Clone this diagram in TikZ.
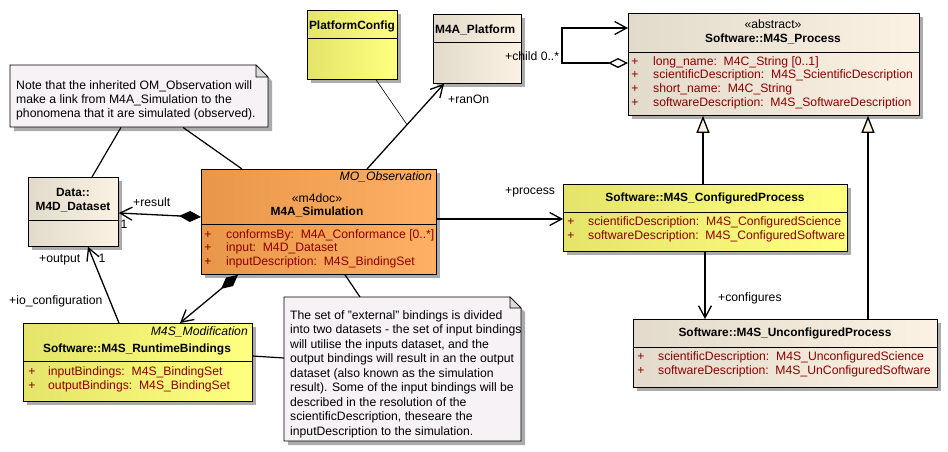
\documentclass[tikz,border=0pt]{standalone}
\usepackage{fontspec}
\setmainfont{Liberation Sans}
\usetikzlibrary{arrows.meta,shadows,calc}
\definecolor{creamL}{HTML}{E2DACB}
\definecolor{creamR}{HTML}{FBF2E4}
\definecolor{yelL}{HTML}{E4E46A}
\definecolor{yelR}{HTML}{FFFF80}
\definecolor{orL}{HTML}{E8974A}
\definecolor{orR}{HTML}{FFB064}
\definecolor{notefill}{HTML}{F6F2F6}
\definecolor{earfill}{HTML}{DCDCDC}
\definecolor{shadowgray}{HTML}{ABABAB}
\definecolor{attrred}{HTML}{8B0000}
\newcommand\mynotebox[5]{%
  \fill[shadowgray] (#1+4,#2+4) -- (#3+4-#5,#2+4) -- (#3+4,#2+4+#5) -- (#3+4,#4+4) -- (#1+4,#4+4) -- cycle;
  \draw[line width=0.8pt, fill=notefill] (#1,#2) -- (#3-#5,#2) -- (#3,#2+#5) -- (#3,#4) -- (#1,#4) -- cycle;
  \draw[line width=0.6pt, fill=earfill] (#3-#5,#2) -- (#3-#5,#2+#5) -- (#3,#2+#5) -- cycle;
}
\begin{document}
\begin{tikzpicture}[x=1pt,y=-1pt,
  box/.style={draw=black, line width=0.8pt, inner sep=0pt, anchor=north west,
    drop shadow={shadow xshift=4pt, shadow yshift=-4pt, fill=shadowgray, opacity=1}},
  creambox/.style={box, left color=creamL, right color=creamR},
  yellowbox/.style={box, left color=yelL, right color=yelR},
  orangebox/.style={box, left color=orL, right color=orR},
  txt/.style={font=\fontsize{12.2}{14}\selectfont, inner sep=0pt, text height=8.8pt, text depth=2.6pt},
  ltxt/.style={txt, anchor=west},
  bold/.style={txt, font=\fontsize{11.9}{14}\selectfont\bfseries},
  ital/.style={txt, font=\fontsize{12.2}{14}\selectfont\itshape, anchor=east},
  attr/.style={txt, text=attrred, anchor=west},
  plus/.style={txt, text=attrred},
  divline/.style={line width=0.8pt},
  notebase/.style={inner sep=0pt, anchor=north west},
  conn/.style={line width=1.3pt},
  noteconn/.style={line width=1.2pt},
  assoc/.style={conn, -{Straight Barb[length=12pt,width=13pt]}},
  compo/.style={conn, {Diamond[length=22pt,width=11pt]}-{Straight Barb[length=12pt,width=13pt]}},
  aggr/.style={conn, {Diamond[length=20pt,width=10pt,fill=white]}-{Straight Barb[length=12pt,width=13pt]}},
  gener/.style={conn, -{Triangle[length=17pt,width=13pt,fill=creamR]}}
]
\useasboundingbox (0,0) rectangle (948,451);

% ---- notes
\mynotebox{10}{65}{268}{127}{12}
\node[notebase, minimum width=258pt, minimum height=62pt] (note1) at (10,65) {};
\foreach \t [count=\i] in {Note that the inherited OM\_Observation will, make a link from M4A\_Simulation to the, phonomena that it are simulated (observed).}
  \node[ltxt] (n1l\i) at (16,{86+14*(\i-1)}) {\t};

\mynotebox{284}{297}{521}{441}{11}
\node[notebase, minimum width=237pt, minimum height=144pt] (note2) at (284,297) {};
\foreach \t [count=\i] in {The set of "external" bindings is divided, into two datasets - the set of input bindings, {will utilise the inputs dataset, and the}, output bindings will result in an the output, dataset (also known as the simulation, result). Some of the input bindings will be, described in the resolution of the, {scientificDescription, theseare the}, inputDescription to the simulation.}
  \node[ltxt] (n2l\i) at (290,{316+14.5*(\i-1)}) {\t};

% ---- PlatformConfig
\node[yellowbox, minimum width=90pt, minimum height=69pt] (pc) at (307,10) {};
\draw[divline] (307,38) -- (397,38);
\node[bold] (pcname) at (352,26) {PlatformConfig};

% ---- M4A_Platform
\node[creambox, minimum width=88pt, minimum height=69pt] (plat) at (433,14) {};
\draw[divline] (433,42) -- (521,42);
\node[bold, anchor=west] (platname) at (435,30) {M4A\_Platform};

% ---- Software::M4S_Process
\node[creambox, minimum width=291pt, minimum height=102pt] (proc) at (628,13) {};
\node[txt] (procst) at (773,25) {«abstract»};
\node[bold] (procname) at (773,39) {Software::M4S\_Process};
\draw[divline] (628,52) -- (919,52);
\foreach \t [count=\i] in {long\_name:~~M4C\_String [0..1], scientificDescription:~~M4S\_ScientificDescription, short\_name:~~M4C\_String, softwareDescription:~~M4S\_SoftwareDescription} {
  \node[plus] (procp\i) at (635,{62+13.67*(\i-1)}) {+};
  \node[attr] (proca\i) at (653,{62+13.67*(\i-1)}) {\t};
}

% ---- Data::M4D_Dataset
\node[creambox, minimum width=90pt, minimum height=69pt] (ds) at (28,177) {};
\draw[divline] (28,220) -- (118,220);
\node[bold] (dsname1) at (73,193) {Data::};
\node[bold] (dsname2) at (73,207) {M4D\_Dataset};

% ---- M4A_Simulation
\node[orangebox, minimum width=235pt, minimum height=105pt] (sim) at (201,169) {};
\node[ital] (simpar) at (432,177) {MO\_Observation};
\node[txt] (simst) at (317,199) {«m4doc»};
\node[bold] (simname) at (317,212) {M4A\_Simulation};
\draw[divline] (201,224) -- (436,224);
\foreach \t [count=\i] in {conformsBy:~~M4A\_Conformance [0..*], input:~~M4D\_Dataset, inputDescription:~~M4S\_BindingSet} {
  \node[plus] (simp\i) at (208,{235+13.5*(\i-1)}) {+};
  \node[attr] (sima\i) at (226,{235+13.5*(\i-1)}) {\t};
}

% ---- Software::M4S_ConfiguredProcess
\node[yellowbox, minimum width=284pt, minimum height=67pt] (cfg) at (563,184) {};
\node[bold] (cfgname) at (705,198) {Software::M4S\_ConfiguredProcess};
\draw[divline] (563,212) -- (847,212);
\foreach \t [count=\i] in {scientificDescription:~~M4S\_ConfiguredScience, softwareDescription:~~M4S\_ConfiguredSoftware} {
  \node[plus] (cfgp\i) at (571,{222+14*(\i-1)}) {+};
  \node[attr] (cfga\i) at (588,{222+14*(\i-1)}) {\t};
}

% ---- Software::M4S_UnconfiguredProcess
\node[creambox, minimum width=304pt, minimum height=68pt] (unc) at (633,319) {};
\node[bold] (uncname) at (785,333) {Software::M4S\_UnconfiguredProcess};
\draw[divline] (633,347) -- (937,347);
\foreach \t [count=\i] in {scientificDescription:~~M4S\_UnconfiguredScience, softwareDescription:~~M4S\_UnConfiguredSoftware} {
  \node[plus] (uncp\i) at (641,{357+14*(\i-1)}) {+};
  \node[attr] (unca\i) at (658,{357+14*(\i-1)}) {\t};
}

% ---- Software::M4S_RuntimeBindings
\node[yellowbox, minimum width=229pt, minimum height=78pt] (rb) at (23,323) {};
\node[ital] (rbpar) at (248,332) {M4S\_Modification};
\node[bold] (rbname) at (137,349) {Software::M4S\_RuntimeBindings};
\draw[divline] (23,361) -- (252,361);
\foreach \t [count=\i] in {inputBindings:~~M4S\_BindingSet, outputBindings:~~M4S\_BindingSet} {
  \node[plus] (rbp\i) at (32,{372+14.5*(\i-1)}) {+};
  \node[attr] (rba\i) at (48,{372+14.5*(\i-1)}) {\t};
}

% ---- connectors
\draw[noteconn] (note1.south -| 121,0) -- (ds.north -| 92,0);
\draw[noteconn] (note1.south -| 183,0) -- (sim.north -| 242,0);
\draw[assoc] (sim.north -| 367,0) -- coordinate[pos=0.52] (ranmid) (plat.south -| 444,0);
\draw[line width=0.6pt] (pc.south -| 376,0) -- (ranmid);
\draw[compo] (sim.west |- 0,217) -- (ds.east |- 0,213);
\draw[assoc] (rb.north -| 119,0) -- (ds.south -| 88,0);
\draw[compo] (sim.south -| 238,0) -- (rb.north -| 180,0);
\draw[noteconn] (sim.south -| 345,0) -- (note2.north -| 360,0);
\draw[noteconn] (rb.east |- 0,356) -- (note2.west |- 0,358);
\draw[assoc] (sim.east |- 0,219) -- (cfg.west |- 0,219);
\draw[gener] (cfg.north -| 703,0) -- (proc.south -| 703,0);
\draw[gener] (unc.north -| 868,0) -- (proc.south -| 868,0);
\draw[assoc] (cfg.south -| 705,0) -- (unc.north -| 705,0);
\draw[aggr] (proc.west |- 0,63) -- (562,63) -- (562,28) -- (proc.west |- 0,28);

% ---- connector labels
\node[ltxt] (lranon) at (448,100) {+ranOn};
\node[ltxt] (lchild) at (505,57) {+child 0..*};
\node[ltxt] (lresult) at (133,203) {+result};
\node[txt] (lres1) at (124,225) {1};
\node[ltxt] (loutput) at (39,259) {+output};
\node[txt] (lout1) at (102,259) {1};
\node[ltxt] (lio) at (9,301) {+io\_configuration};
\node[ltxt] (lprocess) at (505,191) {+process};
\node[ltxt] (lconf) at (718,298) {+configures};
\end{tikzpicture}
\end{document}
